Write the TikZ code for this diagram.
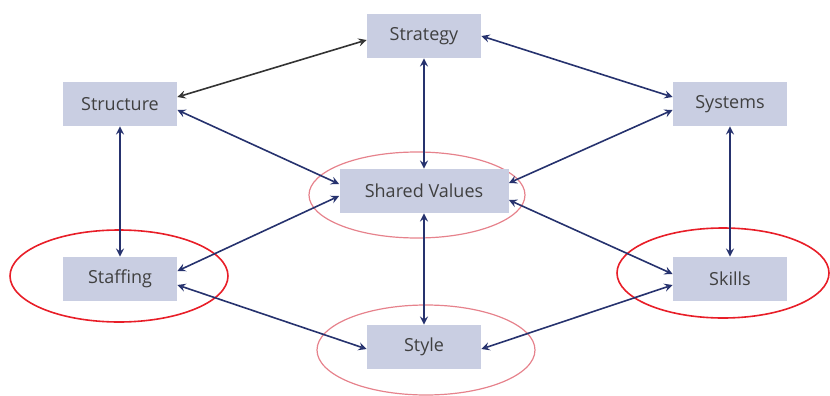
\documentclass[tikz,border=0pt]{standalone}
\usepackage{fontspec}
\setmainfont{Open Sans}
\usepackage{tikz}
\definecolor{boxfill}{RGB}{201,206,226}
\definecolor{navy}{RGB}{38,50,110}
\definecolor{pinkring}{RGB}{230,130,140}
\definecolor{redring}{RGB}{232,30,40}

\begin{document}
\begin{tikzpicture}[x=0.5pt,y=-0.5pt,>=stealth,
	block/.style ={rectangle, fill=boxfill, text=black!75, font=\fontsize{9}{11}\selectfont, minimum width=57pt, minimum height=22pt, inner sep=0pt},
	link/.style ={<->, draw=navy, line width=0.8pt},
	ring/.style ={draw=pinkring, line width=0.6pt},
	redring/.style ={draw=redring, line width=0.8pt}]
		\useasboundingbox (0,0) rectangle (830,396);
		\draw[ring] (417,195) ellipse (108 and 43);
		\draw[ring] (426,350) ellipse (109 and 45);
		\draw[redring] (119,276) ellipse (109 and 46);
		\draw[redring] (723,273) ellipse (106 and 45);
		\node[block] (strategy) at (424,36) {Strategy};
		\node[block] (structure) at (120,104) {Structure};
		\node[block] (systems) at (730,104) {Systems};
		\node[block, minimum width=84.5pt] (shared) at (424,191) {Shared Values};
		\node[block] (staffing) at (120,279) {Staffing};
		\node[block] (skills) at (730,279) {Skills};
		\node[block] (style) at (424,347) {Style};
		\draw[<->, line width=0.8pt, black!80] ([yshift=3.5pt]structure.east) -- ([yshift=-2pt]strategy.west);
		\draw[link] (strategy.east) -- ([yshift=3.5pt]systems.west);
		\draw[link] (strategy) -- (shared);
		\draw[link] ([yshift=-3pt]structure.east) -- ([yshift=3.5pt]shared.west);
		\draw[link] ([yshift=4pt]shared.east) -- ([yshift=-3pt]systems.west);
		\draw[link] (structure) -- (staffing);
		\draw[link] (systems) -- (skills);
		\draw[link] ([yshift=-2.5pt]shared.west) -- ([yshift=4pt]staffing.east);
		\draw[link] ([yshift=-4.5pt]shared.east) -- ([yshift=2.5pt]skills.west);
		\draw[link] (shared) -- (style);
		\draw[link] ([yshift=-3pt]staffing.east) -- ([yshift=-1pt]style.west);
		\draw[link] ([yshift=-3pt]skills.west) -- ([yshift=-1pt]style.east);
	\end{tikzpicture}
\end{document}
